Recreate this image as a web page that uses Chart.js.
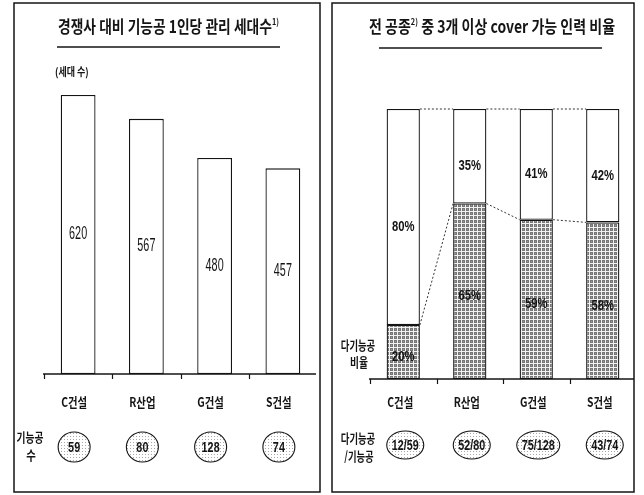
<!DOCTYPE html>
<html>
<head>
<meta charset="utf-8">
<script src="https://cdn.jsdelivr.net/npm/chart.js@4/dist/chart.umd.min.js"></script>
<style>
  html, body { margin: 0; padding: 0; background: #fff; }
  #wrap { position: relative; width: 644px; height: 495px; }
  .pane { position: absolute; top: 0; width: 322px; height: 495px; }
</style>
</head>
<body>
<div id="wrap">
  <div class="pane" style="left:0"><canvas id="chartLeft" width="322" height="495"></canvas></div>
  <div class="pane" style="left:322px"><canvas id="chartRight" width="322" height="495"></canvas></div>
</div>
<script>
// dados
const companies = ['C건설', 'R산업', 'G건설', 'S건설'];
const unitsPerWorker = [620, 567, 480, 457];
const workerCounts = ['59', '80', '128', '74'];
const multiSkillPct = [20, 65, 59, 58];
const singleSkillPct = [80, 35, 41, 42];
const multiOverTotal = ['12/59', '52/80', '75/128', '43/74'];

const KR = '"Noto Sans CJK KR", "Noto Sans", sans-serif';
const NUM = '"Liberation Sans", Arial, sans-serif';
const INK = '#141414';

// padrao cinza quadriculado das barras de multi-funcao
function gridPattern() {
  const c = document.createElement('canvas');
  c.width = 4; c.height = 4;
  const g = c.getContext('2d');
  g.fillStyle = '#f2f2f2';
  g.fillRect(0, 0, 4, 4);
  g.fillStyle = '#767676';
  g.fillRect(0, 0, 3, 3);
  g.fillStyle = '#9a9a9a';
  g.fillRect(1, 1, 1, 1);
  return g.createPattern(c, 'repeat');
}

// pontilhado claro das elipses
function dotPattern(ctx) {
  const c = document.createElement('canvas');
  c.width = 3; c.height = 3;
  const g = c.getContext('2d');
  g.fillStyle = '#ffffff';
  g.fillRect(0, 0, 3, 3);
  g.fillStyle = '#a8a8a8';
  g.fillRect(1, 1, 1, 1);
  return ctx.createPattern(c, 'repeat');
}

function txt(ctx, str, x, y, font, sx, align) {
  ctx.save();
  ctx.font = font;
  ctx.fillStyle = INK;
  ctx.textBaseline = 'middle';
  ctx.textAlign = align || 'center';
  ctx.translate(x, y);
  ctx.scale(sx, 1);
  ctx.fillText(str, 0, 0);
  ctx.restore();
}

// titulo com sobrescrito, ajustado a largura do original
function title(ctx, runs, left, width, y) {
  ctx.save();
  const widths = runs.map((r) => { ctx.font = r.sup ? 'bold 9px ' + KR : 'bold 17px ' + KR; return ctx.measureText(r.t).width; });
  const sx = width / widths.reduce((a, b) => a + b, 0);
  let x = left;
  runs.forEach((r, i) => {
    txt(ctx, r.t, x, r.sup ? y - 5 : y, r.sup ? 'bold 9px ' + KR : 'bold 17px ' + KR, sx, 'left');
    x += widths[i] * sx;
  });
  ctx.restore();
}

function frame(ctx, x0, x1) {
  ctx.save();
  ctx.strokeStyle = INK;
  ctx.lineWidth = 1.5;
  ctx.strokeRect(x0, 3, x1 - x0, 489);
  ctx.restore();
}

function hline(ctx, x0, x1, y, w) {
  ctx.save();
  ctx.strokeStyle = INK;
  ctx.lineWidth = w;
  ctx.beginPath(); ctx.moveTo(x0, y); ctx.lineTo(x1, y); ctx.stroke();
  ctx.restore();
}

function baseline(chart, x1) {
  const { ctx, chartArea } = chart;
  const xs = chart.scales.x;
  const step = xs.getPixelForValue(1) - xs.getPixelForValue(0);
  hline(ctx, chartArea.left - 1, x1, chartArea.bottom, 1.5);
  ctx.save();
  ctx.strokeStyle = INK;
  ctx.lineWidth = 1.2;
  companies.forEach((_, i) => {
    const tx = Math.round(xs.getPixelForValue(i) - step / 2) + 0.5;
    ctx.beginPath(); ctx.moveTo(tx, chartArea.bottom); ctx.lineTo(tx, chartArea.bottom + 5); ctx.stroke();
  });
  ctx.restore();
}

function ovals(chart, labels, y, ry, dx) {
  const { ctx } = chart;
  const xs = chart.scales.x;
  const fill = dotPattern(ctx);
  labels.forEach((s, i) => {
    const cx = xs.getPixelForValue(i) + dx;
    ctx.font = 'bold 15px ' + NUM;
    const rx = Math.max(16, ctx.measureText(s).width * 0.72 / 2 + 5);
    ctx.save();
    ctx.fillStyle = fill;
    ctx.strokeStyle = INK;
    ctx.lineWidth = 1.1;
    ctx.beginPath(); ctx.ellipse(cx, y, rx, ry, 0, 0, Math.PI * 2); ctx.fill(); ctx.stroke();
    ctx.restore();
    txt(ctx, s, cx, y + 1, 'bold 15px ' + NUM, 0.72);
  });
}

// ---------- esquerda: seda por tecnico ----------
new Chart(document.getElementById('chartLeft'), {
  type: 'bar',
  data: {
    labels: companies,
    datasets: [{
      data: unitsPerWorker,
      backgroundColor: '#ffffff',
      borderColor: INK,
      borderWidth: 1.3,
      borderSkipped: false,
      barPercentage: 0.51,
      categoryPercentage: 1,
    }],
  },
  options: {
    responsive: false,
    animation: false,
    layout: { padding: { left: 44, right: 5, top: 59, bottom: 121 } },
    scales: {
      x: { display: false },
      y: { display: false, min: 0, max: 700 },
    },
    plugins: { legend: { display: false }, tooltip: { enabled: false } },
  },
  plugins: [{
    id: 'leftDecor',
    afterDatasetsDraw(chart) {
      const { ctx } = chart;
      const xs = chart.scales.x;
      frame(ctx, 14, 320);
      title(ctx, [{ t: '경쟁사 대비 기능공 1인당 관리 세대수' }, { t: '1)', sup: true }], 58, 221, 27);
      hline(ctx, 57, 280, 47, 1.3);
      txt(ctx, '(세대 수)', 55, 72, 'bold 11px ' + KR, 0.82, 'left');
      baseline(chart, 316);
      chart.getDatasetMeta(0).data.forEach((bar, i) => {
        txt(ctx, String(unitsPerWorker[i]), bar.x, (bar.y + bar.base) / 2, '18px ' + NUM, 0.6);
      });
      companies.forEach((c, i) => txt(ctx, c, xs.getPixelForValue(i) - 4, 402, 'bold 13px ' + KR, 0.8));
      txt(ctx, '기능공', 30, 437, 'bold 13px ' + KR, 0.75);
      txt(ctx, '수', 31, 455, 'bold 13px ' + KR, 0.8);
      ovals(chart, workerCounts, 447, 15, -4);
    },
  }],
});

// ---------- direita: % multi-funcao ----------
new Chart(document.getElementById('chartRight'), {
  type: 'bar',
  data: {
    labels: companies,
    datasets: [{
      data: multiSkillPct,
      backgroundColor: gridPattern(),
      borderColor: INK,
      borderWidth: 1.3,
      borderSkipped: false,
      barPercentage: 0.5,
      categoryPercentage: 1,
    }, {
      data: singleSkillPct,
      backgroundColor: '#ffffff',
      borderColor: INK,
      borderWidth: 1.3,
      borderSkipped: false,
      barPercentage: 0.5,
      categoryPercentage: 1,
    }],
  },
  options: {
    responsive: false,
    animation: false,
    layout: { padding: { left: 48, right: 8, top: 109, bottom: 116 } },
    scales: {
      x: { display: false, stacked: true },
      y: { display: false, stacked: true, min: 0, max: 100 },
    },
    plugins: { legend: { display: false }, tooltip: { enabled: false } },
  },
  plugins: [{
    id: 'rightDecor',
    afterDatasetsDraw(chart) {
      const { ctx } = chart;
      const xs = chart.scales.x;
      const low = chart.getDatasetMeta(0).data;
      const up = chart.getDatasetMeta(1).data;
      frame(ctx, 10, 312);
      title(ctx, [{ t: '전 공종' }, { t: '2)', sup: true }, { t: ' 중 3개 이상 cover 가능 인력 비율' }], 47, 246, 27);
      hline(ctx, 57, 280, 48, 1.3);
      baseline(chart, 312);

      // linhas pontilhadas ligando os topos
      ctx.save();
      ctx.strokeStyle = '#333';
      ctx.lineWidth = 1;
      ctx.setLineDash([2, 2]);
      [low, up].forEach((bars) => {
        for (let i = 0; i < bars.length - 1; i++) {
          const a = bars[i], b = bars[i + 1];
          ctx.beginPath();
          ctx.moveTo(a.x + a.width / 2, a.y);
          ctx.lineTo(b.x - b.width / 2, b.y);
          ctx.stroke();
        }
      });
      ctx.restore();

      up.forEach((bar, i) => txt(ctx, singleSkillPct[i] + '%', bar.x, (bar.y + bar.base) / 2 + 10, 'bold 15px ' + NUM, 0.75));
      low.forEach((bar, i) => txt(ctx, multiSkillPct[i] + '%', bar.x, (bar.y + bar.base) / 2 + 5, 'bold 15px ' + NUM, 0.75));

      companies.forEach((c, i) => txt(ctx, c, xs.getPixelForValue(i) - 3, 402, 'bold 13px ' + KR, 0.8));
      txt(ctx, '다기능공', 36, 345, 'bold 13px ' + KR, 0.72);
      txt(ctx, '비율', 37, 362, 'bold 13px ' + KR, 0.75);
      txt(ctx, '다기능공', 36, 438, 'bold 13px ' + KR, 0.72);
      txt(ctx, '/기능공', 37, 456, 'bold 13px ' + KR, 0.72);
      ovals(chart, multiOverTotal, 445, 14, 2);
    },
  }],
});
</script>
</body>
</html>
